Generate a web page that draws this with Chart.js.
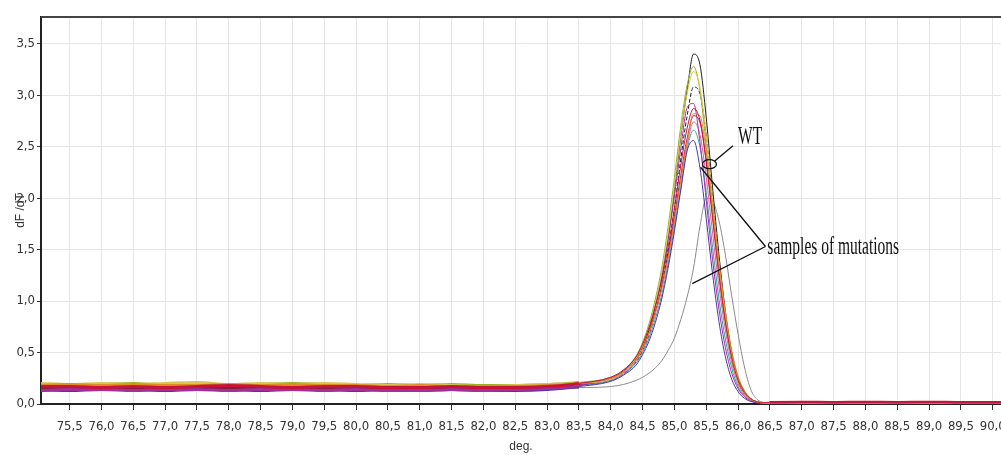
<!DOCTYPE html>
<html>
<head>
<meta charset="utf-8">
<script src="https://cdn.jsdelivr.net/npm/chart.js@4.4.1/dist/chart.umd.min.js"></script>
<style>
  html, body { margin: 0; padding: 0; background: #fff; }
  #wrap { width: 1001px; height: 455px; }
</style>
</head>
<body>
<div id="wrap"><canvas id="meltChart" width="1001" height="455"></canvas></div>
<script>
// temperature points (deg.)
const temps = [75.05, 75.5, 76.0, 76.5, 77.0, 77.5, 78.0, 78.5, 79.0, 79.5, 80.0, 80.5, 81.0, 81.5, 82.0, 82.5, 83.0, 83.5,
  84.0, 84.2, 84.4, 84.5, 84.6, 84.7, 84.8, 84.9, 85.0, 85.1, 85.2, 85.3, 85.4, 85.5, 85.6, 85.7, 85.8, 85.9, 86.0, 86.1, 86.2, 86.3, 86.4,
  86.5, 87.0, 87.5, 88.0, 88.5, 89.0, 89.5, 90.0, 90.2];

// dF/dT per sample
const sRed = [0.17, 0.17, 0.16, 0.17, 0.16, 0.17, 0.18, 0.17, 0.16, 0.17, 0.17, 0.16, 0.16, 0.17, 0.16, 0.16, 0.17, 0.20,
  0.26, 0.33, 0.46, 0.58, 0.74, 0.95, 1.20, 1.52, 1.90, 2.32, 2.68, 2.87, 2.76, 2.35, 1.80, 1.25, 0.80, 0.45, 0.23, 0.11, 0.05, 0.02, 0.012,
  0.018, 0.020, 0.017, 0.020, 0.018, 0.020, 0.017, 0.018, 0.018];
const sOrange = [0.18, 0.19, 0.18, 0.19, 0.18, 0.18, 0.19, 0.18, 0.19, 0.18, 0.18, 0.17, 0.18, 0.17, 0.17, 0.17, 0.18, 0.20,
  0.25, 0.31, 0.43, 0.54, 0.69, 0.88, 1.12, 1.42, 1.78, 2.18, 2.55, 2.82, 2.80, 2.45, 1.92, 1.38, 0.90, 0.52, 0.27, 0.13, 0.055, 0.022, 0.012,
  0.012, 0.014, 0.012, 0.013, 0.012, 0.014, 0.012, 0.012, 0.012];
const sTan = [0.20, 0.19, 0.20, 0.19, 0.20, 0.21, 0.19, 0.20, 0.19, 0.20, 0.19, 0.18, 0.19, 0.18, 0.17, 0.18, 0.19, 0.20,
  0.24, 0.31, 0.45, 0.57, 0.75, 0.98, 1.28, 1.66, 2.12, 2.62, 3.02, 3.23, 3.08, 2.60, 1.98, 1.36, 0.86, 0.48, 0.24, 0.11, 0.05, 0.02, 0.01,
  0.010, 0.011, 0.010, 0.010, 0.011, 0.010, 0.010, 0.010, 0.010];
const sOlive = [0.19, 0.18, 0.19, 0.20, 0.18, 0.19, 0.18, 0.19, 0.20, 0.19, 0.18, 0.19, 0.18, 0.19, 0.18, 0.18, 0.19, 0.21,
  0.26, 0.33, 0.47, 0.60, 0.78, 1.02, 1.32, 1.72, 2.20, 2.70, 3.10, 3.28, 3.05, 2.50, 1.85, 1.25, 0.78, 0.43, 0.22, 0.10, 0.045, 0.02, 0.01,
  0.010, 0.010, 0.010, 0.010, 0.010, 0.010, 0.010, 0.010, 0.010];
const sMagenta = [0.13, 0.14, 0.14, 0.13, 0.14, 0.14, 0.13, 0.14, 0.14, 0.13, 0.14, 0.13, 0.13, 0.14, 0.13, 0.14, 0.15, 0.18,
  0.25, 0.32, 0.46, 0.58, 0.75, 0.97, 1.25, 1.60, 2.02, 2.48, 2.88, 2.92, 2.55, 1.98, 1.40, 0.92, 0.55, 0.30, 0.15, 0.07, 0.03, 0.015, 0.01,
  0.014, 0.016, 0.014, 0.015, 0.016, 0.014, 0.015, 0.015, 0.015];
const sMaroon = [0.15, 0.16, 0.15, 0.16, 0.16, 0.15, 0.15, 0.16, 0.15, 0.16, 0.15, 0.15, 0.16, 0.15, 0.14, 0.15, 0.16, 0.19,
  0.25, 0.32, 0.44, 0.55, 0.70, 0.90, 1.14, 1.45, 1.82, 2.22, 2.58, 2.80, 2.74, 2.36, 1.84, 1.30, 0.84, 0.48, 0.25, 0.12, 0.05, 0.02, 0.01,
  0.016, 0.018, 0.016, 0.018, 0.017, 0.016, 0.018, 0.016, 0.016];
const sPink = [0.16, 0.15, 0.16, 0.16, 0.15, 0.16, 0.16, 0.15, 0.16, 0.15, 0.16, 0.16, 0.15, 0.15, 0.16, 0.15, 0.16, 0.19,
  0.24, 0.30, 0.42, 0.53, 0.68, 0.88, 1.12, 1.42, 1.78, 2.17, 2.52, 2.74, 2.62, 2.20, 1.66, 1.14, 0.72, 0.40, 0.20, 0.09, 0.04, 0.02, 0.01,
  0.015, 0.016, 0.015, 0.016, 0.015, 0.016, 0.015, 0.015, 0.015];
const sViolet = [0.14, 0.13, 0.14, 0.14, 0.13, 0.14, 0.14, 0.13, 0.14, 0.14, 0.13, 0.14, 0.13, 0.14, 0.13, 0.13, 0.14, 0.17,
  0.22, 0.28, 0.38, 0.48, 0.61, 0.79, 1.02, 1.32, 1.68, 2.08, 2.46, 2.56, 2.30, 1.80, 1.26, 0.80, 0.46, 0.24, 0.12, 0.055, 0.025, 0.012, 0.01,
  0.010, 0.010, 0.010, 0.010, 0.010, 0.010, 0.010, 0.010, 0.010];
const sTeal = [0.15, 0.14, 0.15, 0.15, 0.14, 0.15, 0.14, 0.15, 0.15, 0.14, 0.15, 0.14, 0.15, 0.14, 0.14, 0.15, 0.15, 0.18,
  0.23, 0.29, 0.40, 0.50, 0.64, 0.83, 1.06, 1.36, 1.72, 2.10, 2.48, 2.66, 2.50, 2.05, 1.52, 1.02, 0.63, 0.35, 0.17, 0.08, 0.035, 0.015, 0.01,
  0.010, 0.010, 0.010, 0.010, 0.010, 0.010, 0.010, 0.010, 0.010];
const sDark = [0.15, 0.15, 0.16, 0.15, 0.15, 0.16, 0.15, 0.15, 0.16, 0.15, 0.15, 0.14, 0.15, 0.14, 0.15, 0.15, 0.16, 0.18,
  0.23, 0.29, 0.41, 0.52, 0.67, 0.88, 1.14, 1.48, 1.90, 2.38, 2.80, 3.08, 3.02, 2.60, 2.00, 1.40, 0.88, 0.50, 0.25, 0.12, 0.05, 0.02, 0.01,
  0.008, 0.008, 0.008, 0.008, 0.008, 0.008, 0.008, 0.008, 0.008];
const sBlack = [0.17, 0.16, 0.17, 0.16, 0.17, 0.16, 0.16, 0.17, 0.16, 0.16, 0.15, 0.16, 0.16, 0.15, 0.16, 0.16, 0.17, 0.20,
  0.25, 0.31, 0.44, 0.55, 0.72, 0.95, 1.22, 1.60, 2.08, 2.60, 3.05, 3.40, 3.30, 2.78, 2.10, 1.45, 0.90, 0.50, 0.25, 0.12, 0.05, 0.02, 0.012,
  0.008, 0.008, 0.008, 0.008, 0.008, 0.008, 0.008, 0.008, 0.008];
const sGray = [0.16, 0.16, 0.16, 0.15, 0.16, 0.16, 0.15, 0.16, 0.16, 0.15, 0.16, 0.15, 0.15, 0.15, 0.16, 0.15, 0.16, 0.16,
  0.17, 0.19, 0.23, 0.26, 0.30, 0.35, 0.42, 0.52, 0.64, 0.82, 1.04, 1.32, 1.72, 2.00, 1.97, 1.78, 1.45, 1.05, 0.68, 0.36, 0.14, 0.045, 0.015,
  0.008, 0.008, 0.008, 0.008, 0.008, 0.008, 0.008, 0.008, 0.008];

const xTickValues = [75.5, 76.0, 76.5, 77.0, 77.5, 78.0, 78.5, 79.0, 79.5, 80.0, 80.5, 81.0, 81.5, 82.0, 82.5,
  83.0, 83.5, 84.0, 84.5, 85.0, 85.5, 86.0, 86.5, 87.0, 87.5, 88.0, 88.5, 89.0, 89.5, 90.0];
const xTickLabels = ['75,5', '76,0', '76,5', '77,0', '77,5', '78,0', '78,5', '79,0', '79,5', '80,0', '80,5', '81,0', '81,5', '82,0', '82,5',
  '83,0', '83,5', '84,0', '84,5', '85,0', '85,5', '86,0', '86,5', '87,0', '87,5', '88,0', '88,5', '89,0', '89,5', '90,0'];
const yTickValues = [0, 0.5, 1.0, 1.5, 2.0, 2.5, 3.0, 3.5];
const yTickLabels = ['0,0', '0,5', '1,0', '1,5', '2,0', '2,5', '3,0', '3,5'];

// annotation anchors in data units
const wtMark = [85.55, 2.33];
const wtLineEnd = [85.92, 2.51];
const wtLabel = [86.0, 2.53];
const mutHub = [86.43, 1.53];
const mutTargets = [[85.41, 2.30], [85.28, 1.17]];
const mutLabel = [86.46, 1.46];

const series = [
  { name: 'red', values: sRed, color: '#c8143c' },
  { name: 'orange', values: sOrange, color: '#e08a28' },
  { name: 'tan', values: sTan, color: '#d8c650' },
  { name: 'olive', values: sOlive, color: '#9cb020' },
  { name: 'magenta', values: sMagenta, color: '#a0309a' },
  { name: 'maroon', values: sMaroon, color: '#8c1c3c' },
  { name: 'pink', values: sPink, color: '#e0609c' },
  { name: 'violet', values: sViolet, color: '#4a34a8' },
  { name: 'teal', values: sTeal, color: '#3a9cb0' },
  { name: 'dark', values: sDark, color: '#1c1c3a', dash: [4, 2] },
  { name: 'black', values: sBlack, color: '#222222' },
  { name: 'gray', values: sGray, color: '#8a8a8a' }
];

const axisFont = { family: "'Liberation Sans Narrow', 'DejaVu Sans Condensed', sans-serif", size: 13 };

const annotate = {
  id: 'annotate',
  afterDraw(chart) {
    const { ctx, chartArea, scales: { x, y } } = chart;
    const px = p => [x.getPixelForValue(p[0]), y.getPixelForValue(p[1])];
    ctx.save();
    // top frame line
    ctx.strokeStyle = '#444';
    ctx.lineWidth = 2;
    ctx.beginPath();
    ctx.moveTo(chartArea.left, chartArea.top);
    ctx.lineTo(chartArea.right, chartArea.top);
    ctx.stroke();

    ctx.strokeStyle = '#111';
    ctx.lineWidth = 1.3;
    const [ex, ey] = px(wtMark);
    ctx.beginPath();
    ctx.ellipse(ex, ey, 7, 4.5, 0, 0, Math.PI * 2);
    ctx.stroke();
    const [lx, ly] = px(wtLineEnd);
    ctx.beginPath();
    ctx.moveTo(ex + 5, ey - 3);
    ctx.lineTo(lx, ly);
    ctx.stroke();

    const [hx, hy] = px(mutHub);
    mutTargets.forEach(t => {
      const [tx, ty] = px(t);
      ctx.beginPath();
      ctx.moveTo(tx, ty);
      ctx.lineTo(hx, hy);
      ctx.stroke();
    });

    ctx.fillStyle = '#111';
    ctx.font = "25px 'Liberation Serif', 'Times New Roman', serif";
    ctx.textBaseline = 'alphabetic';
    const drawText = (text, p) => {
      const [tx, ty] = px(p);
      ctx.save();
      ctx.translate(tx, ty);
      ctx.scale(0.62, 1);
      ctx.fillText(text, 0, 0);
      ctx.restore();
    };
    drawText('WT', wtLabel);
    drawText('samples of mutations', mutLabel);
    ctx.restore();
  }
};

new Chart(document.getElementById('meltChart'), {
  type: 'line',
  data: {
    datasets: series.map(s => ({
      label: s.name,
      data: temps.map((t, i) => ({ x: t, y: s.values[i] })),
      borderColor: s.color,
      borderDash: s.dash || [],
      borderWidth: 1,
      pointRadius: 0,
      fill: false,
      cubicInterpolationMode: 'monotone',
      segment: {
        borderWidth: c => (c.p1.parsed.x <= 83.5 ? 3 : (c.p0.parsed.x >= 86.5 ? 2.5 : 1))
      }
    }))
  },
  options: {
    responsive: false,
    animation: false,
    layout: { padding: { top: 17, left: 0, right: 0, bottom: 0 } },
    plugins: { legend: { display: false }, tooltip: { enabled: false } },
    scales: {
      x: {
        type: 'linear',
        min: 75.05,
        max: 90.13,
        afterBuildTicks: s => { s.ticks = xTickValues.map(v => ({ value: v })); },
        afterFit: s => { s.height = 51; s.paddingLeft = 0; s.paddingRight = 0; },
        ticks: {
          autoSkip: false,
          maxRotation: 0,
          padding: 9,
          color: '#333',
          font: axisFont,
          callback: (v, i) => xTickLabels[i]
        },
        grid: { color: '#e6e6e6', tickColor: '#333', tickLength: 6 },
        border: { color: '#222', width: 2 },
        title: {
          display: true,
          text: 'deg.',
          color: '#333',
          font: { family: "'Liberation Sans', Arial, sans-serif", size: 12 },
          padding: { top: 0, bottom: 1 }
        }
      },
      y: {
        min: 0,
        max: 3.76,
        afterBuildTicks: s => { s.ticks = yTickValues.map(v => ({ value: v })); },
        afterFit: s => { s.width = 41; s.paddingTop = 0; s.paddingBottom = 0; },
        ticks: {
          padding: 2,
          color: '#333',
          font: axisFont,
          callback: (v, i) => yTickLabels[i]
        },
        grid: { color: '#e6e6e6', tickColor: '#333', tickLength: 4 },
        border: { color: '#222', width: 2 },
        title: {
          display: true,
          text: 'dF /dT',
          color: '#333',
          font: { family: "'Liberation Sans', Arial, sans-serif", size: 12 },
          padding: { top: 13, bottom: 0 }
        }
      }
    }
  },
  plugins: [annotate]
});
</script>
</body>
</html>
